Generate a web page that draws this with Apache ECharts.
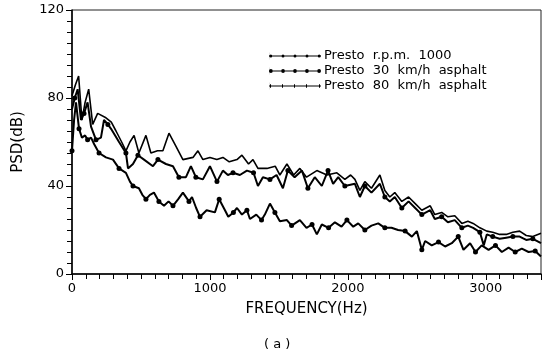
<!DOCTYPE html>
<html>
<head>
<meta charset="utf-8">
<script src="https://cdn.jsdelivr.net/npm/echarts@6/dist/echarts.min.js"></script>
<style>
  html, body { margin: 0; padding: 0; background: #fff; }
  #chart { width: 545px; height: 357px; }
</style>
</head>
<body>
<div id="chart"></div>
<script>
// legend names
const seriesNames = ['Presto  r.p.m.  1000', 'Presto  30  km/h  asphalt', 'Presto  80  km/h  asphalt'];

// Presto r.p.m. 1000 (lowest curve)
const freqRpm = [0, 15, 29, 51, 72, 95, 113, 138, 161, 196, 246, 297, 341, 391, 420, 442, 485, 510, 536, 565,
  594, 630, 667, 700, 732, 770, 804, 848, 870, 900, 928, 976, 1036, 1067, 1109, 1133, 1170, 1196, 1232, 1268,
  1290, 1336, 1374, 1398, 1435, 1471, 1507, 1558, 1592, 1652, 1700, 1740, 1775, 1811, 1860, 1906, 1954, 1993,
  2039, 2075, 2123, 2171, 2220, 2268, 2316, 2364, 2415, 2464, 2500, 2536, 2560, 2608, 2657, 2705, 2753, 2800,
  2838, 2886, 2925, 2970, 3020, 3070, 3116, 3165, 3213, 3261, 3310, 3358, 3400];
const psdRpm = [56, 70, 78, 66, 62, 63, 61, 62, 59, 55, 53, 52, 48, 46, 42, 40, 39, 36, 34, 36,
  37, 33, 31, 33, 31, 34, 37, 33, 35, 30, 26, 29, 28, 34, 29, 26, 28, 30, 27, 29,
  25, 27, 24.5, 27, 32, 28, 24, 24.5, 22, 24.5, 21, 22.5, 18, 22.5, 21, 23.5, 21.5, 24.5,
  21.5, 23, 20, 22, 23, 21, 21, 20, 19.5, 17, 19.5, 11, 15, 13, 14.5, 12.5, 14, 17,
  11, 14, 10, 13, 11, 13, 10, 12, 10, 11.5, 10, 10.5, 8];

// Presto 30 km/h asphalt (middle curve)
const freq30 = [0, 20, 41, 65, 87, 113, 138, 174, 210, 232, 260, 283, 341, 391, 406, 442, 478, 522, 587, 623,
  681, 732, 775, 826, 862, 898, 949, 1000, 1051, 1094, 1130, 1167, 1217, 1268, 1316, 1348, 1384, 1435, 1483, 1529,
  1565, 1614, 1667, 1710, 1760, 1811, 1856, 1893, 1930, 1978, 2051, 2087, 2123, 2171, 2232, 2268, 2304, 2340,
  2391, 2440, 2488, 2536, 2597, 2630, 2680, 2725, 2775, 2826, 2870, 2908, 2957, 2985, 3007, 3050, 3100, 3148,
  3196, 3245, 3293, 3341, 3400];
const psd30 = [75, 80, 84, 70, 73, 78, 67, 61, 62, 70, 68, 66, 60, 55, 48, 50, 54, 52, 49, 52,
  50, 49, 44, 44, 49, 44, 43, 49, 42, 47, 45, 46, 45, 47, 46, 40, 44, 43, 45, 39,
  47, 44, 47, 39, 44, 40, 47, 41, 44, 40, 41, 35, 40, 37, 41, 35, 33, 35,
  30, 33, 30, 27, 29, 25, 26, 23.5, 24.5, 21, 22, 21, 19, 13, 18, 17, 16, 16.5,
  17, 17, 15.5, 16, 14];

// Presto 80 km/h asphalt (top curve)
const freq80 = [0, 25, 48, 72, 95, 121, 150, 186, 246, 285, 319, 360, 391, 420, 450, 485, 536, 572, 620, 659,
  703, 754, 804, 877, 913, 949, 1000, 1050, 1094, 1140, 1196, 1232, 1280, 1312, 1348, 1413, 1473, 1507, 1558, 1607,
  1652, 1700, 1775, 1848, 1920, 1978, 2020, 2051, 2087, 2123, 2171, 2232, 2268, 2304, 2340, 2391, 2440, 2488,
  2536, 2597, 2630, 2680, 2725, 2775, 2826, 2870, 2908, 2957, 3007, 3050, 3100, 3148, 3196, 3245, 3293, 3341, 3400];
const psd80 = [81, 86, 90, 70, 78, 84, 68, 73, 71, 69, 65, 60, 56, 60, 63, 55, 63, 55, 56, 56,
  64, 58, 52, 53, 56, 52, 53, 52, 53, 51, 52, 54, 50, 52, 48, 48, 49, 45, 50, 45,
  48, 44, 47, 45, 46, 43, 45, 43, 38, 42, 39, 45, 38, 35, 37, 33, 35, 32,
  29, 31, 27, 28, 26, 26.5, 23, 24, 23, 21, 19.5, 19, 18, 18, 19, 19.5, 17.5, 17, 18.5];

const pairs = (xs, ys) => xs.map((x, i) => [x, ys[i]]);

// legend icons drawn in a 52x7 box: line with dots / line with small ticks
const dotIcon = r => 'path://M0,3h52v1H0z' +
  [1.8, 14, 26, 38, 50.2].map(c => `M${c - r},3.5a${r},${r} 0 1,1 ${2 * r},0a${r},${r} 0 1,1 -${2 * r},0z`).join('') +
  'M0,0h0.1v7h-0.1z';
const tickIcon = 'path://M0,3h52v1H0z' +
  [1, 13, 25, 37, 50].map(c => `M${c},1.8h1v3.4h-1z`).join('') +
  'M0,0h0.1v7h-0.1z';

const font = '"DejaVu Sans", "Liberation Sans", sans-serif';

const chart = echarts.init(document.getElementById('chart'), null, { renderer: 'canvas' });
chart.setOption({
  animation: false,
  grid: { left: 72, right: 4, top: 10, bottom: 83, show: true, borderColor: '#222', borderWidth: 1 },
  legend: {
    orient: 'vertical',
    left: 264, top: 44,
    itemWidth: 52, itemHeight: 7, itemGap: 1,
    itemStyle: { color: '#000', borderWidth: 0 },
    textStyle: { color: '#000', fontSize: 13, lineHeight: 14, fontFamily: font, padding: [0, 0, 0, -2] },
    data: [
      { name: seriesNames[0], icon: dotIcon(1.5) },
      { name: seriesNames[1], icon: dotIcon(1.9) },
      { name: seriesNames[2], icon: tickIcon }
    ]
  },
  graphic: [
    { type: 'text', left: 264, top: 338,
      style: { text: '( a )', fontSize: 13, fontFamily: font, fill: '#000' } }
  ],
  xAxis: {
    type: 'value', min: 0, max: 3400, interval: 1000,
    name: 'FREQUENCY(Hz)',
    nameLocation: 'middle', nameGap: 28,
    nameTextStyle: { color: '#000', fontSize: 15, fontFamily: font },
    axisLine: { show: true, lineStyle: { color: '#000', width: 1.5 } },
    axisTick: { show: true, length: 6, lineStyle: { color: '#000', width: 1 } },
    minorTick: { show: true, splitNumber: 10, length: 5, lineStyle: { color: '#000', width: 1 } },
    axisLabel: {
      color: '#000', fontSize: 13, fontFamily: font, showMaxLabel: false,
      formatter: v => String(v)
    },
    splitLine: { show: false }
  },
  yAxis: {
    type: 'value', min: 0, max: 120, interval: 40,
    name: 'PSD(dB)',
    nameLocation: 'middle', nameGap: 46, nameRotate: 90,
    nameTextStyle: { color: '#000', fontSize: 15, fontFamily: font },
    axisLine: { show: true, lineStyle: { color: '#000', width: 1.5 } },
    axisTick: { show: true, length: 6, lineStyle: { color: '#000', width: 1 } },
    minorTick: { show: true, splitNumber: 8, length: 5, lineStyle: { color: '#000', width: 1 } },
    axisLabel: { color: '#000', fontSize: 13, fontFamily: font },
    splitLine: { show: false }
  },
  series: [
    {
      name: seriesNames[0], type: 'line',
      data: pairs(freqRpm, psdRpm),
      symbol: 'circle',
      symbolSize: (v, p) => (p.dataIndex % 3 === 0 ? 5 : 0),
      itemStyle: { color: '#000' },
      lineStyle: { color: '#000', width: 2 }
    },
    {
      name: seriesNames[1], type: 'line',
      data: pairs(freq30, psd30),
      symbol: 'circle',
      symbolSize: (v, p) => (p.dataIndex % 3 === 1 ? 5 : 0),
      itemStyle: { color: '#000' },
      lineStyle: { color: '#000', width: 2 }
    },
    {
      name: seriesNames[2], type: 'line',
      data: pairs(freq80, psd80),
      showSymbol: false,
      itemStyle: { color: '#000' },
      lineStyle: { color: '#000', width: 1.6 }
    }
  ]
});
</script>
</body>
</html>
